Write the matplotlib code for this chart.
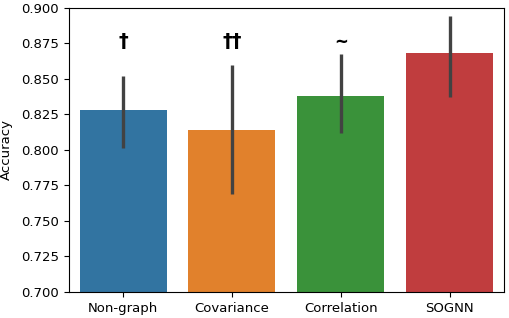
import matplotlib
matplotlib.use('Agg')
import matplotlib.pyplot as plt
import numpy as np

# Data
methods = ['Non-graph', 'Covariance', 'Correlation', 'SOGNN']
accuracy = [0.828, 0.8143, 0.838, 0.868]
err_low = [0.8016, 0.769, 0.8117, 0.8371]
err_high = [0.8523, 0.8599, 0.8674, 0.8944]
marks = ['†', '††', '~', '']

# seaborn default palette at saturation 0.75
colors = ['#3274a1', '#e1812c', '#3a923a', '#c03d3e']

plt.rcParams['font.size'] = 9.5

fig, ax = plt.subplots(figsize=(5.1, 3.18), dpi=100)
x = np.arange(len(methods))
ax.bar(x, accuracy, width=0.8, color=colors)
ax.vlines(x, err_low, err_high, color='#424242', linewidth=2.4, zorder=3)

for xi, m in zip(x, marks):
    if m == '~':
        ax.text(xi, 0.8765, m, ha='center', va='center', fontsize=12,
                fontweight='bold')
    elif m:
        ax.text(xi, 0.8695, m, ha='center', va='bottom', fontsize=14,
                fontweight='bold')

ax.set_ylim(0.7, 0.9)
ax.set_xlim(-0.5, len(methods) - 0.5)
ax.set_xticks(x)
ax.set_xticklabels(methods)
yt = np.arange(0.7, 0.9001, 0.025)
ax.set_yticks(yt)
ax.set_yticklabels([f'{v:.3f}' for v in yt])
ax.set_ylabel('Accuracy', labelpad=6)

fig.subplots_adjust(left=0.135, right=0.988, top=0.975, bottom=0.082)
fig.savefig('out.png', dpi=100)
